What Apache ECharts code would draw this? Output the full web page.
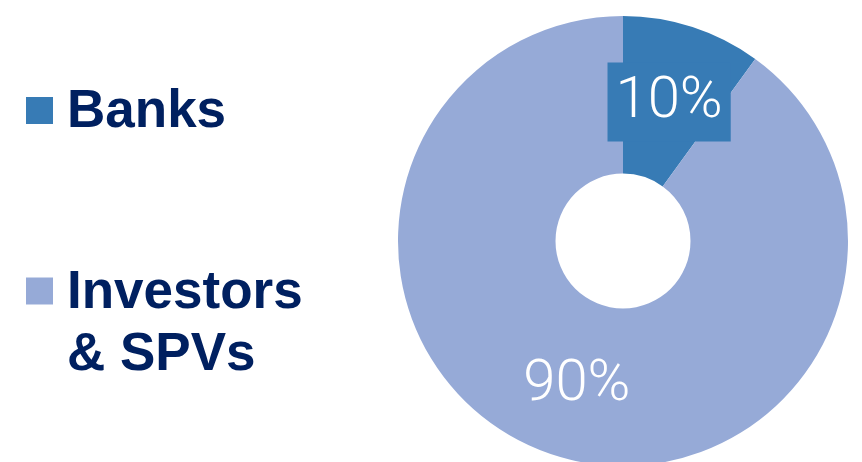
<!DOCTYPE html>
<html>
<head>
<meta charset="utf-8">
<script src="https://cdn.jsdelivr.net/npm/echarts@6/dist/echarts.min.js"></script>
<style>
html,body{margin:0;padding:0;background:#fff;}
#chart{width:862px;height:462px;}
</style>
</head>
<body>
<div id="chart"></div>
<script>
const categories = ['Banks', 'Investors & SPVs'];
const legendLines = [['Banks'], ['Investors', '& SPVs']];
const values = [10, 90];
const colors = ['#377BB5', '#96AAD7'];

const chart = echarts.init(document.getElementById('chart'), null, {renderer: 'canvas'});

const richText = {
  t: {
    fontFamily: 'Liberation Sans, Arial, sans-serif',
    fontWeight: 'bold',
    fontSize: 53,
    color: '#002060',
    lineHeight: 62,
    padding: [4, 0, 0, 9]
  },
  s: {
    fontSize: 53,
    lineHeight: 62,
    height: 62
  }
};

function legendFmt(i) {
  return function () {
    const lines = legendLines[i].map(function (l) { return '{t|' + l + '}'; });
    if (lines.length > 1) {
      const pad = [];
      for (let k = 1; k < lines.length; k++) pad.push('{s| }');
      return pad.concat(lines).join('\n');
    }
    return lines.join('\n');
  };
}

const option = {
  animation: false,
  color: colors,
  legend: categories.map(function (name, i) {
    return {
      data: [{name: name}],
      orient: 'vertical',
      left: 26,
      top: i === 0 ? 82 : 198,
      padding: 0,
      icon: 'rect',
      itemWidth: 27,
      itemHeight: 27,
      selectedMode: false,
      formatter: legendFmt(i),
      textStyle: {rich: richText}
    };
  }),
  series: [{
    type: 'pie',
    center: [623, 241],
    radius: [67.5, 225],
    startAngle: 90,
    clockwise: true,
    silent: true,
    labelLine: {show: false},
    labelLayout: {dy: 3},
    label: {
      show: true,
      position: 'inside',
      formatter: '{c}%',
      fontFamily: 'Roboto, sans-serif',
      fontWeight: 300,
      fontSize: 58,
      lineHeight: 58,
      color: '#ffffff'
    },
    data: categories.map(function (name, i) {
      const d = {name: name, value: values[i]};
      if (i === 0) {
        d.label = {backgroundColor: colors[0], padding: [10, 8, 11, 8]};
      }
      return d;
    })
  }]
};
chart.setOption(option);
</script>
</body>
</html>
